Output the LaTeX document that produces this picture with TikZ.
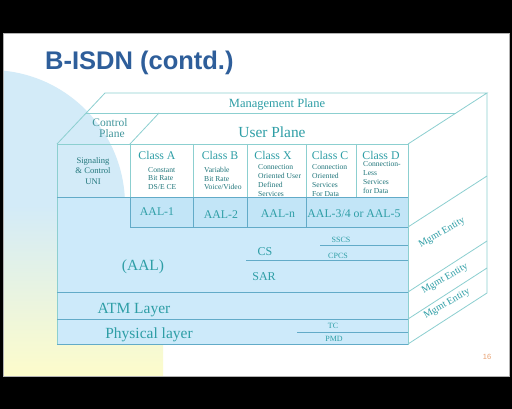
\documentclass[tikz,border=0pt]{standalone}
\usepackage{fontspec}
\setmainfont{Liberation Serif}
\newfontfamily\titlefont{Liberation Sans}
\usepackage{tikz}
\usetikzlibrary{positioning, calc}

\definecolor{slidetitle}{HTML}{2E5E9A}
\definecolor{tealtext}{HTML}{2E9EA6}
\definecolor{tealline}{HTML}{8CCFD0}
\definecolor{layerfill}{HTML}{CDEAFA}
\definecolor{aalfill}{HTML}{C2E5F7}
\definecolor{layerline}{HTML}{62ABC8}
\definecolor{bgblue}{HTML}{D3EBF8}
\definecolor{bgyellow}{HTML}{FDFCCB}
\definecolor{pagenum}{HTML}{E8A070}

\tikzstyle{titletext} = [font=\titlefont\bfseries\fontsize{25.5}{28}\selectfont,
    text=slidetitle, inner sep=0pt]
\tikzstyle{plane} = [font=\fontsize{12.5}{14}\selectfont, text=tealtext, inner sep=0pt]
\tikzstyle{classhead} = [font=\fontsize{11.8}{13}\selectfont, text=tealtext, inner sep=0pt]
\tikzstyle{classdesc} = [font=\fontsize{7.6}{9.2}\selectfont, text=tealtext!75!black,
    align=left, inner sep=0pt, anchor=north west]
\tikzstyle{layer} = [font=\fontsize{15.5}{17}\selectfont, text=tealtext, inner sep=0pt]
\tikzstyle{sublayer} = [font=\fontsize{12}{14}\selectfont, text=tealtext, inner sep=0pt]
\tikzstyle{subtiny} = [font=\fontsize{8}{9}\selectfont, text=tealtext, inner sep=0pt]
\tikzstyle{mgmt} = [font=\fontsize{10}{11}\selectfont, text=tealtext, inner sep=0pt, rotate=30]
\tikzstyle{edge} = [draw=tealline, line width=0.8pt]
\tikzstyle{divider} = [draw=layerline, line width=0.8pt]

\begin{document}
\begin{tikzpicture}[x=1pt, y=-1pt]
        % Slide
        \useasboundingbox (0,0) rectangle (512,409);
        \fill[black] (0,0) rectangle (512,409);
        \fill[white] (3,33) rectangle (509,376);
        \begin{scope}
            \clip (3,33) rectangle (509,376);
            \fill[bgblue] (-10,205) circle (135);
            \shade[top color=bgblue, bottom color=bgyellow] (3,205) rectangle (163,376);
        \end{scope}
        \draw[gray!60, line width=0.5pt] (3,33) rectangle (509,376);

        \node[titletext, anchor=base west] (title) at (45,70) {B-ISDN (contd.)};
        \node[font=\titlefont\fontsize{7.5}{8}\selectfont, text=pagenum] (page) at (487,357) {16};

        % Corners of the box
        \coordinate (ftl) at (57,144);
        \coordinate (ftr) at (408,144);
        \coordinate (fbl) at (57,344);
        \coordinate (fbr) at (408,344);
        \coordinate (btl) at (105,93);
        \coordinate (btr) at (487,93);
        \coordinate (bbr) at (487,293);

        % Layer fills
        \fill[layerfill] (57,197) rectangle (fbr);
        \fill[aalfill] (130,197) rectangle (408,227);

        % Top face
        \draw[edge] (ftl) -- (btl) -- (btr) -- (ftr);
        \draw[edge] (86,113) -- (456,113);
        \draw[edge] (130,144) -- (159,113);

        % Right face
        \draw[edge] (btr) -- (bbr) -- (fbr);
        \foreach \y in {227,292,319}
            \draw[edge] (408,\y) -- ++(79,-51);

        % Front face
        \draw[edge] (ftl) -- (ftr) -- (fbr) -- (fbl) -- cycle;
        \draw[divider] (57,197) -- (408,197);
        \foreach \x in {130,193,247,306,356}
            \draw[edge] (\x,144) -- (\x,197);
        \foreach \x in {130,193,247,306}
            \draw[divider] (\x,197) -- (\x,227);
        \draw[divider] (130,227) -- (408,227);
        \draw[divider] (320,245) -- (408,245);
        \draw[divider] (246,260) -- (408,260);
        \draw[divider] (57,292) -- (408,292);
        \draw[divider] (57,319) -- (408,319);
        \draw[divider] (297,332) -- (408,332);
        \draw[divider] (fbl) -- (fbr);

        % Planes
        \node[plane] (mgmtplane) at (277,105) {Management Plane};
        \node[plane, font=\fontsize{15.4}{17}\selectfont] (userplane) at (272,132) {User Plane};
        \node[plane, font=\fontsize{11.5}{12}\selectfont, text=tealtext!75!gray,
              align=center] (ctrlplane) at (110,128) {Control\\[-1pt]\,\,Plane};

        % Service classes
        \node[classdesc, font=\fontsize{8.6}{10.5}\selectfont, align=center,
              anchor=center] (signal) at (93,171) {Signaling\\\& Control\\UNI};
        \node[classhead] (clsA) at (157,155) {Class A};
        \node[classhead] (clsB) at (220,155) {Class B};
        \node[classhead] (clsX) at (273,155) {Class X};
        \node[classhead] (clsC) at (330,155) {Class C};
        \node[classhead] (clsD) at (381,155) {Class D};
        \node[classdesc, font=\fontsize{7.6}{8.6}\selectfont] (descA) at (148,167)
            {Constant\\Bit Rate\\DS/E CE};
        \node[classdesc, font=\fontsize{7.6}{8.6}\selectfont] (descB) at (204,167)
            {Variable\\Bit Rate\\Voice/Video};
        \node[classdesc] (descX) at (258,164)
            {Connection\\Oriented User\\Defined\\Services};
        \node[classdesc] (descC) at (312,164)
            {Connection\\Oriented\\Services\\For Data};
        \node[classdesc, font=\fontsize{7.6}{9}\selectfont] (descD) at (363,161)
            {Connection-\\Less\\Services\\for Data};

        % AAL types
        \node[classhead] (aal1) at (157,212) {AAL-1};
        \node[classhead] (aal2) at (221,215) {AAL-2};
        \node[classhead] (aaln) at (278,214) {AAL-n};
        \node[classhead] (aal34) at (354,214) {AAL-3/4 or AAL-5};

        % Layers
        \node[layer] (aal) at (143,267) {(AAL)};
        \node[sublayer] (cs) at (265,252) {CS};
        \node[sublayer] (sar) at (264,277) {SAR};
        \node[subtiny] (sscs) at (341,240) {SSCS};
        \node[subtiny] (cpcs) at (338,256) {CPCS};
        \node[layer] (atm) at (134,310) {ATM Layer};
        \node[layer] (phy) at (149,335) {Physical layer};
        \node[subtiny] (tc) at (333,326) {TC};
        \node[subtiny] (pmd) at (334,339) {PMD};

        % Management entities
        \node[mgmt] (ment1) at (442,233) {Mgmt Entity};
        \node[mgmt] (ment2) at (445,279) {Mgmt Entity};
        \node[mgmt] (ment3) at (447,304) {Mgmt Entity};
    \end{tikzpicture}
\end{document}
